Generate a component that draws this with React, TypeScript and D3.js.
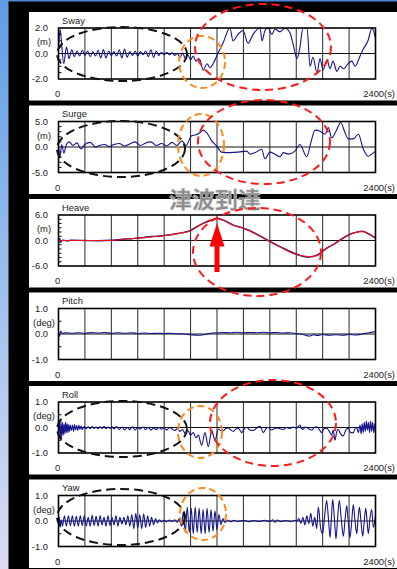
import React from 'react';
import * as d3 from 'd3';

// ---------------- DATA ----------------
const timeTicks = [0, 200, 400, 600, 800, 1000, 1200, 1400, 1600, 1800, 2000, 2200, 2400];
const panelNames = ['Sway', 'Surge', 'Heave', 'Pitch', 'Roll', 'Yaw'];
const panelUnits = ['(m)', '(m)', '(m)', '(deg)', '(deg)', '(deg)'];
const panelRanges = [2, 5, 6, 1, 1, 1];
const minorSteps = [0.5, 1, 1, 0.5, 0.5, 0.5];
const xStartLabel = '0';
const xEndLabel = '2400(s)';
const annotationText = '津波到達';

type P = [number, number];

const sway: P[] = [
  [0, 0.2], [12, 1.9], [20, 1.2], [40, -0.8], [60, 0.5], [80, -0.4], [100, 0.3], [120, -0.25], [140, 0.2], [160, -0.2],
  [180, 0.25], [200, -0.15], [220, 0.2], [240, -0.25], [260, 0.15], [280, -0.2], [300, 0.25], [320, -0.35], [340, 0.3],
  [360, -0.35], [380, 0.2], [400, -0.15], [420, 0.15], [440, -0.2], [460, 0.3], [480, -0.35], [500, 0.35], [520, -0.3],
  [540, 0.15], [560, -0.15], [580, 0.2], [600, -0.2], [620, 0.15], [640, -0.1], [660, 0.2], [680, -0.25], [700, 0.3],
  [720, -0.3], [740, 0.2], [760, -0.15], [780, 0.1], [800, -0.1], [820, 0.1], [840, -0.1], [860, 0.05], [880, -0.15],
  [900, 0.0], [920, -0.3], [940, 0.05], [960, -0.4], [980, -0.1], [1000, -0.5], [1020, -0.2], [1040, -0.6], [1060, -0.4],
  [1071, -0.5], [1095, -1.3], [1124, -0.8], [1147, -1.1], [1185, -0.5], [1207, 0.0], [1245, 0.8], [1298, 2.0], [1321, 1.0],
  [1359, 1.5], [1397, 1.8], [1435, 0.8], [1473, 1.5], [1526, 2.0], [1541, 1.0], [1563, 1.8], [1586, 2.0], [1616, 1.5],
  [1639, 1.9], [1677, 1.7], [1715, 2.0], [1753, 1.6], [1775, 0.8], [1806, -0.4], [1828, 0.5], [1851, 2.0], [1882, 2.0],
  [1904, -1.0], [1927, -0.3], [1957, -1.5], [1980, -0.4], [2003, -1.3], [2033, -0.5], [2056, -1.2], [2078, -0.6],
  [2108, -1.4], [2131, -1.0], [2160, -1.2], [2184, -0.9], [2222, -0.6], [2245, -1.0], [2283, -0.2], [2305, 0.3],
  [2343, 1.0], [2374, 2.0], [2390, 1.6], [2400, 1.2],
];

const surge: P[] = [
  [0, 0.5], [10, -2.0], [25, 0.5], [40, -1.2], [60, 0.5], [80, 1.0], [110, 0.3], [140, 0.8], [170, -0.4], [200, 0.5],
  [240, 0.9], [280, 0.0], [310, 0.3], [350, 0.5], [380, 0.1], [420, 0.5], [460, 0.7], [500, 0.2], [540, 0.6], [580, 1.0],
  [620, 0.3], [660, 0.8], [700, 1.0], [740, 0.3], [780, 0.7], [820, 0.2], [860, 0.9], [895, 0.3], [935, 1.2], [965, 0.3],
  [1008, 2.2], [1040, 2.4], [1071, 2.8], [1096, 3.3], [1122, 2.8], [1160, 1.2], [1198, 0.2], [1235, -1.0], [1298, -1.1],
  [1361, -1.0], [1425, -0.8], [1450, -1.4], [1488, -1.1], [1538, -0.45], [1563, -2.3], [1601, -1.0], [1639, -1.4],
  [1677, -1.9], [1702, -1.1], [1740, -1.4], [1790, -0.8], [1828, 0.5], [1879, -1.9], [1917, 1.5], [1942, 3.3],
  [1980, 3.1], [2018, 2.5], [2043, 3.8], [2068, 1.8], [2101, 3.1], [2137, 4.8], [2169, 2.8], [2194, 1.6], [2232, 1.6],
  [2270, 2.5], [2308, -0.45], [2346, -1.8], [2371, -1.4], [2400, -0.8],
];

const heaveMeasured: P[] = [
  [0, -0.8], [8, 0.5], [16, -0.4], [30, 0.1], [60, -0.05], [100, 0.05], [200, 0.0], [300, -0.05], [400, 0.05],
  [450, 0.2], [500, 0.35], [550, 0.4], [600, 0.6], [650, 0.7], [700, 0.95], [750, 1.0], [800, 1.2], [850, 1.35],
  [900, 1.65], [950, 1.9], [1000, 2.4], [1050, 3.3], [1100, 4.1], [1150, 4.7], [1200, 5.2], [1250, 4.8], [1320, 3.7],
  [1400, 2.9], [1450, 2.3], [1500, 1.5], [1600, -0.2], [1700, -1.8], [1800, -3.2], [1850, -3.7], [1900, -3.9],
  [1960, -3.4], [2030, -1.8], [2080, -1.0], [2130, 0.1], [2200, 1.4], [2250, 1.9], [2300, 2.2], [2350, 1.5], [2400, 0.6],
];

const heaveSimulated: P[] = [
  [0, 0.0], [400, 0.0], [500, 0.3], [600, 0.55], [700, 0.85], [800, 1.15], [900, 1.6], [1000, 2.3], [1050, 3.2],
  [1100, 4.1], [1150, 4.8], [1200, 5.1], [1250, 4.7], [1320, 3.6], [1400, 2.9], [1450, 2.2], [1500, 1.4], [1600, -0.3],
  [1700, -1.9], [1800, -3.3], [1900, -3.8], [1960, -3.5], [2030, -1.9], [2130, 0.0], [2200, 1.3], [2250, 1.9],
  [2300, 2.1], [2350, 1.6], [2400, 0.5],
];

const pitch: P[] = [
  [0, 0.1], [8, -0.1], [16, 0.12], [30, 0.02], [60, 0.05], [100, 0.03], [150, 0.05], [200, 0.03], [250, 0.06],
  [300, 0.04], [350, 0.06], [400, 0.03], [450, 0.05], [500, 0.03], [550, 0.05], [600, 0.02], [650, 0.04], [700, 0.02],
  [750, 0.03], [800, 0.02], [850, 0.03], [900, 0.01], [950, 0.0], [1000, -0.03], [1050, -0.05], [1100, -0.03],
  [1150, 0.03], [1200, 0.05], [1250, 0.06], [1300, 0.05], [1350, 0.07], [1400, 0.05], [1450, 0.06], [1500, 0.05],
  [1550, 0.07], [1600, 0.05], [1650, 0.06], [1700, 0.04], [1750, 0.05], [1800, 0.02], [1850, -0.02], [1900, -0.08],
  [1930, -0.03], [1960, -0.06], [2000, -0.02], [2050, -0.05], [2100, -0.03], [2150, -0.05], [2200, -0.02],
  [2250, -0.04], [2300, 0.0], [2350, 0.05], [2400, 0.1],
];

const roll: P[] = [
  [0, 0.0], [5, 0.3], [12, -0.5], [18, 0.25], [24, -0.4], [30, 0.2], [36, -0.3], [42, 0.15], [48, -0.25], [54, 0.2],
  [60, -0.2], [66, 0.15], [72, -0.2], [78, 0.12], [84, -0.15], [90, 0.1], [98, -0.12], [106, 0.1], [114, -0.15],
  [122, 0.12], [130, -0.1], [138, 0.08], [146, -0.12], [154, 0.1], [162, -0.08], [170, 0.06], [180, -0.08], [195, 0.04],
  [210, -0.05], [225, 0.03], [240, -0.05], [255, 0.04], [270, -0.04], [285, 0.02], [300, -0.05], [315, 0.03],
  [330, -0.04], [345, 0.05], [360, -0.05], [375, 0.02], [390, -0.04], [405, 0.03], [420, -0.06], [440, 0.04],
  [460, -0.08], [480, 0.02], [500, -0.1], [520, 0.0], [540, -0.08], [560, 0.03], [580, -0.1], [600, 0.0], [620, -0.06],
  [640, 0.02], [660, -0.08], [680, 0.01], [700, -0.1], [720, -0.02], [740, -0.08], [760, 0.0], [780, -0.07],
  [800, -0.02], [820, -0.1], [840, 0.0], [860, -0.06], [880, -0.12], [900, -0.04], [920, -0.15], [940, -0.08],
  [960, -0.25], [980, -0.12], [1000, -0.3], [1020, -0.2], [1040, -0.4], [1060, -0.3], [1071, -0.5], [1084, -0.7],
  [1109, -0.2], [1134, -0.75], [1160, -0.12], [1185, -0.5], [1210, -0.06], [1230, -0.12], [1248, -0.13], [1265, -0.04],
  [1286, -0.02], [1305, -0.1], [1324, -0.15], [1345, -0.05], [1362, -0.04], [1387, -0.2], [1405, -0.06], [1425, 0.0],
  [1450, -0.1], [1475, -0.12], [1500, -0.02], [1526, 0.05], [1551, -0.2], [1570, -0.05], [1589, 0.0], [1610, -0.1],
  [1627, -0.07], [1650, -0.02], [1677, -0.05], [1700, -0.08], [1728, 0.0], [1750, -0.05], [1778, 0.02], [1800, -0.03],
  [1828, 0.1], [1840, -0.05], [1853, -0.07], [1866, 0.02], [1879, 0.0], [1895, -0.06], [1917, -0.1], [1935, 0.0],
  [1955, 0.03], [1975, -0.08], [1993, -0.2], [2010, -0.05], [2031, -0.03], [2050, -0.15], [2068, -0.3], [2080, -0.1],
  [2093, -0.5], [2105, -0.2], [2118, -0.07], [2135, -0.25], [2156, -0.33], [2175, -0.1], [2194, -0.03], [2212, -0.2],
  [2232, -0.2], [2245, -0.05], [2257, 0.0], [2270, -0.2], [2283, 0.1], [2291, -0.25], [2299, 0.15], [2307, -0.2],
  [2315, 0.2], [2323, -0.15], [2331, 0.25], [2339, -0.1], [2347, 0.2], [2355, -0.2], [2363, 0.25], [2371, -0.15],
  [2379, 0.2], [2387, -0.2], [2395, 0.15], [2400, -0.05],
];

const yaw: P[] = [
  [0, 0.0], [6, 0.15], [12, -0.25], [20, 0.05], [30, -0.2], [45, 0.2], [60, -0.2], [75, 0.2], [90, -0.18], [105, 0.2],
  [120, -0.2], [135, 0.18], [150, -0.2], [165, 0.2], [180, -0.18], [195, 0.2], [210, -0.2], [225, 0.15], [240, -0.2],
  [255, 0.22], [270, -0.18], [285, 0.18], [300, -0.2], [315, 0.2], [330, -0.15], [345, 0.15], [360, -0.2], [375, 0.2],
  [390, -0.18], [405, 0.15], [420, -0.15], [435, 0.2], [450, -0.2], [465, 0.15], [480, -0.12], [495, 0.15],
  [510, -0.15], [525, 0.2], [540, -0.2], [555, 0.25], [570, -0.3], [585, 0.3], [600, -0.28], [615, 0.25], [630, -0.3],
  [645, 0.28], [660, -0.25], [675, 0.2], [690, -0.2], [705, 0.15], [720, -0.15], [735, 0.1], [750, -0.08], [765, 0.05],
  [780, -0.04], [800, 0.03], [820, -0.03], [840, 0.04], [860, -0.02], [880, 0.05], [900, -0.05], [915, 0.1],
  [930, -0.2], [945, 0.35], [960, -0.45], [975, 0.55], [990, -0.45], [1005, 0.5], [1020, -0.5], [1035, 0.55],
  [1050, -0.45], [1065, 0.5], [1080, -0.5], [1095, 0.45], [1110, -0.5], [1125, 0.5], [1140, -0.45], [1155, 0.45],
  [1170, -0.4], [1185, 0.4], [1200, -0.35], [1215, 0.25], [1230, -0.15], [1245, 0.1], [1260, -0.06], [1280, 0.04],
  [1300, -0.03], [1330, 0.03], [1360, -0.02], [1400, 0.03], [1440, -0.03], [1480, 0.02], [1520, -0.02], [1560, 0.03],
  [1600, -0.02], [1625, 0.05], [1640, -0.05], [1655, 0.04], [1680, -0.02], [1720, 0.02], [1760, -0.02], [1790, 0.03],
  [1805, 0.0], [1820, 0.1], [1835, -0.1], [1850, 0.15], [1865, -0.15], [1880, 0.2], [1895, -0.1], [1910, 0.3],
  [1925, -0.2], [1940, 0.15], [1955, -0.3], [1967, 0.55], [1985, -0.3], [2000, -0.5], [2015, 0.2], [2030, 0.8],
  [2045, 0.0], [2056, -0.65], [2066, 0.1], [2076, 0.85], [2090, 0.0], [2101, -0.7], [2113, 0.1], [2126, 0.8],
  [2142, 0.0], [2157, -0.6], [2170, 0.1], [2182, 0.6], [2195, -0.1], [2207, -0.65], [2220, 0.0], [2232, 0.65],
  [2245, 0.0], [2258, -0.5], [2268, 0.1], [2278, 0.55], [2290, 0.0], [2303, -0.6], [2315, 0.0], [2326, 0.5],
  [2336, 0.0], [2346, -0.5], [2358, 0.1], [2371, 0.45], [2384, -0.25], [2400, 0.2],
];

const panelSeries: P[][][] = [[sway], [surge], [heaveMeasured, heaveSimulated], [pitch], [roll], [yaw]];

// ---------------- LAYOUT ----------------
const W = 397;
const H = 569;
const PLOT_X0 = 58.5;
const PLOT_X1 = 375.5;
const PLOT_H = 51;
const FIRST_TOP = 28;
const STEP = 93.5;
const FONT = '"Liberation Sans", Arial, Helvetica, sans-serif';
const LINE_BLUE = '#14148c';

type Ell = { cx: number; cy: number; rx: number; ry: number; kind: 'black' | 'orange' | 'red' };
const ellipses: Ell[] = [
  { cx: 122, cy: 54, rx: 65, ry: 27, kind: 'black' },
  { cx: 121, cy: 149, rx: 64, ry: 28, kind: 'black' },
  { cx: 122, cy: 429, rx: 65, ry: 28, kind: 'black' },
  { cx: 121, cy: 517, rx: 64, ry: 28, kind: 'black' },
  { cx: 202, cy: 62, rx: 23, ry: 26, kind: 'orange' },
  { cx: 201, cy: 145, rx: 23, ry: 31, kind: 'orange' },
  { cx: 200, cy: 432, rx: 22, ry: 26, kind: 'orange' },
  { cx: 203, cy: 514, rx: 23, ry: 26, kind: 'orange' },
  { cx: 263, cy: 47, rx: 68, ry: 43, kind: 'red' },
  { cx: 264, cy: 142, rx: 66, ry: 42, kind: 'red' },
  { cx: 257, cy: 252, rx: 64, ry: 44, kind: 'red' },
  { cx: 273, cy: 423, rx: 63, ry: 43, kind: 'red' },
];
const ellStyle = {
  black: { stroke: '#111', dash: '9 5' },
  orange: { stroke: '#ff8a1c', dash: '7 4' },
  red: { stroke: '#ff1a1a', dash: '8 5' },
};

const fmt = (v: number) => (v < 0 ? '-' : '') + Math.abs(v).toFixed(1);

export default function App() {
  React.useEffect(() => {
    document.body.style.margin = '0';
  }, []);

  const x = d3.scaleLinear().domain([0, 2400]).range([PLOT_X0, PLOT_X1]);

  return (
    <svg width={W} height={H} style={{ position: 'fixed', left: 0, top: 0, display: 'block' }} xmlns="http://www.w3.org/2000/svg">
      <defs>
        <linearGradient id="leftStrip" x1="0" y1="0" x2="0" y2="1">
          <stop offset="0%" stopColor="#5f9be6" />
          <stop offset="50%" stopColor="#9cc0ec" />
          <stop offset="100%" stopColor="#dcdcf2" />
        </linearGradient>
        {panelNames.map((_, i) => {
          const top = FIRST_TOP + i * STEP;
          return (
            <clipPath id={`clip${i}`} key={i}>
              <rect x={PLOT_X0} y={top} width={PLOT_X1 - PLOT_X0} height={PLOT_H} />
            </clipPath>
          );
        })}
      </defs>
      <rect x={0} y={0} width={W} height={H} fill="#000" />
      <rect x={0} y={0} width={W} height={1.5} fill="#4f86d6" />
      <rect x={0} y={0} width={8.5} height={H} fill="url(#leftStrip)" />

      {panelNames.map((name, i) => {
        const top = FIRST_TOP + i * STEP;
        const bottom = top + PLOT_H;
        const R = panelRanges[i];
        const y = d3.scaleLinear().domain([-R, R]).range([bottom, top]);
        const line = d3
          .line<P>()
          .x((d) => x(d[0]))
          .y((d) => y(d[1]))
          .curve(d3.curveMonotoneX);
        const minor = d3.range(-R + minorSteps[i], R - 1e-6, minorSteps[i]).filter((v) => Math.abs(v) > 1e-6);
        const series = panelSeries[i];
        return (
          <g key={name}>
            <rect x={29} y={top - 16} width={W - 29} height={88.5} fill="#fff" />
            {timeTicks.slice(1, -1).map((t) => (
              <line key={t} x1={x(t)} x2={x(t)} y1={top} y2={bottom} stroke="#2a2a2a" strokeWidth={1} />
            ))}
            <line x1={PLOT_X0} x2={PLOT_X1} y1={y(0)} y2={y(0)} stroke="#111" strokeWidth={1} />
            {minor.map((v) => (
              <line key={v} x1={PLOT_X0} x2={PLOT_X0 + 3} y1={y(v)} y2={y(v)} stroke="#111" strokeWidth={1} />
            ))}
            <g clipPath={`url(#clip${i})`}>
              {series.map((s, k) => (
                <path
                  key={k}
                  d={line(s) || ''}
                  fill="none"
                  stroke={series.length > 1 && k === 1 ? '#ff1010' : LINE_BLUE}
                  strokeWidth={series.length > 1 ? (k === 1 ? 1.2 : 1.4) : 1.1}
                  strokeOpacity={series.length > 1 && k === 1 ? 0.9 : 1}
                  strokeLinejoin="round"
                />
              ))}
            </g>
            <rect x={PLOT_X0} y={top} width={PLOT_X1 - PLOT_X0} height={PLOT_H} fill="none" stroke="#000" strokeWidth={1.6} />
            <text x={62} y={top - 4.5} fontFamily={FONT} fontSize={9.4} fill="#222">
              {name}
            </text>
            <text x={48} y={y(R)} dy="0.35em" textAnchor="end" fontFamily={FONT} fontSize={9.4} fill="#222">
              {fmt(R)}
            </text>
            <text x={44} y={top + 14} dy="0.35em" textAnchor="middle" fontFamily={FONT} fontSize={9.4} fill="#222">
              {panelUnits[i]}
            </text>
            <text x={48} y={y(0)} dy="0.35em" textAnchor="end" fontFamily={FONT} fontSize={9.4} fill="#222">
              {fmt(0)}
            </text>
            <text x={48} y={y(-R)} dy="0.35em" textAnchor="end" fontFamily={FONT} fontSize={9.4} fill="#222">
              {fmt(-R)}
            </text>
            <text x={x(0) - 1} y={bottom + 15} dy="0.35em" textAnchor="middle" fontFamily={FONT} fontSize={9.4} fill="#222">
              {xStartLabel}
            </text>
            <text x={395} y={bottom + 15} dy="0.35em" textAnchor="end" fontFamily={FONT} fontSize={9.4} fill="#222">
              {xEndLabel}
            </text>
          </g>
        );
      })}

      <text
        x={169}
        y={208}
        fontFamily='"Noto Sans CJK JP", "Noto Sans CJK SC", sans-serif'
        fontWeight={700}
        fontSize={23}
        fill="#8a8a8a"
        stroke="#c8c8c8"
        strokeWidth={0.6}
      >
        {annotationText}
      </text>

      <path d="M217,223 L224.5,246.5 L219.5,246.5 L219.5,272 L214.5,272 L214.5,246.5 L209.5,246.5 Z" fill="#ff0000" />

      {ellipses.map((e, k) => (
        <ellipse
          key={k}
          cx={e.cx}
          cy={e.cy}
          rx={e.rx}
          ry={e.ry}
          fill="none"
          stroke={ellStyle[e.kind].stroke}
          strokeWidth={2}
          strokeDasharray={ellStyle[e.kind].dash}
        />
      ))}
    </svg>
  );
}
